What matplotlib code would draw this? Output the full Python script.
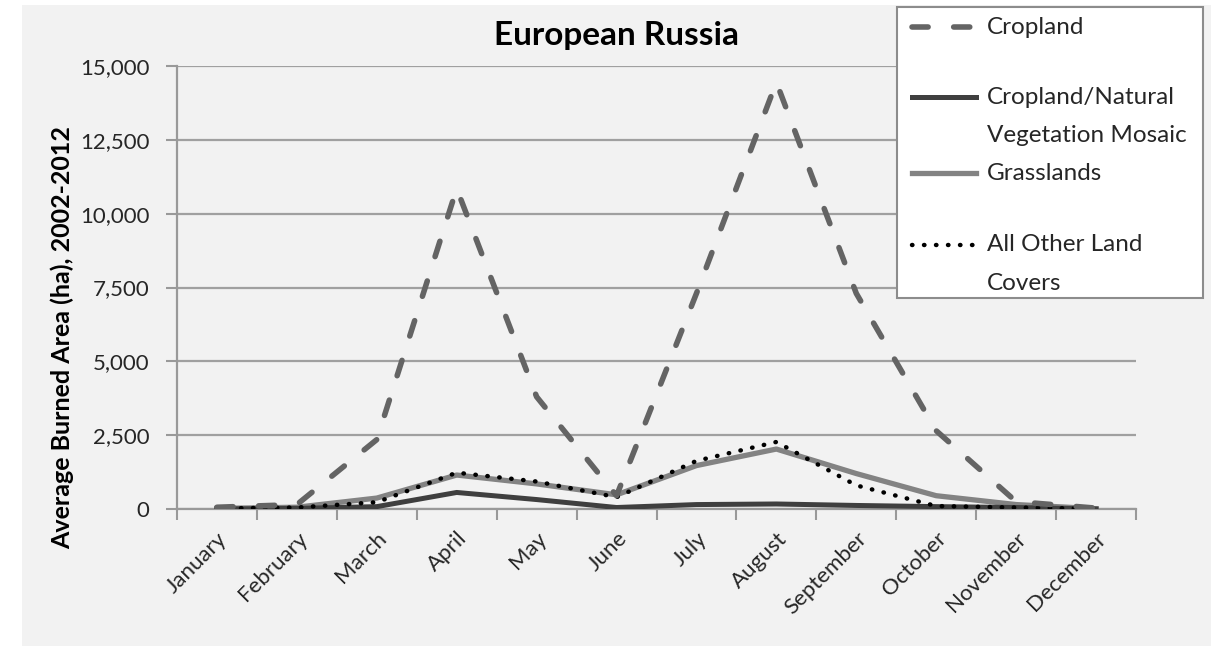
import matplotlib.pyplot as plt
from matplotlib.lines import Line2D
from matplotlib.patches import Rectangle
import numpy as np

# ---- data ---- #
months = ['January', 'February', 'March', 'April', 'May', 'June', 'July',
          'August', 'September', 'October', 'November', 'December']
cropland = [60, 150, 2350, 10850, 3800, 450, 7300, 14450, 7300, 2650, 250, 30]
mosaic = [0, 20, 80, 560, 320, 50, 150, 170, 120, 80, 50, 0]
grasslands = [20, 60, 370, 1150, 850, 480, 1470, 2030, 1200, 450, 150, 10]
other = [20, 50, 230, 1230, 930, 400, 1630, 2270, 800, 100, 50, 10]
yticks = [0, 2500, 5000, 7500, 10000, 12500, 15000]

W, H = 1211, 646
plt.rcParams['font.family'] = ['Lato', 'DejaVu Sans']
txt = '#262626'

fig = plt.figure(figsize=(W / 100, H / 100), dpi=100, facecolor='white')
fig.patches.append(Rectangle((22 / W, 0), 1 - 22 / W, (H - 5) / H, transform=fig.transFigure,
                             facecolor='#f2f2f2', edgecolor='none', zorder=-10))

ax = fig.add_axes([177 / W, (H - 509) / H, (1136 - 177) / W, (509 - 66) / H])
ax.set_facecolor('#f2f2f2')

x = np.arange(len(months))
styles = {
    'Cropland': dict(color='#646464', lw=4, ls=(0, (2.9, 4.6)), dash_capstyle='round'),
    'mosaic': dict(color='#3f3f3f', lw=3.6, ls='-'),
    'grass': dict(color='#838383', lw=3.8, ls='-'),
    'other': dict(color='black', lw=3.2, ls=(0, (0.1, 2.6)), dash_capstyle='round'),
}
ax.plot(x, grasslands, **styles['grass'], zorder=3)
ax.plot(x, mosaic, **styles['mosaic'], zorder=4)
ax.plot(x, other, **styles['other'], zorder=5)
ax.plot(x, cropland, **styles['Cropland'], zorder=6)

ax.set_xlim(-0.5, 11.5)
ax.set_ylim(0, 15000)
ax.set_yticks(yticks)
ax.set_yticklabels(['{:,}'.format(v) for v in yticks])
ax.yaxis.grid(True, color='#a0a0a0', lw=1.6)
ax.set_axisbelow(True)

ax.set_xticks(np.arange(-0.5, 12, 1))
ax.set_xticklabels([])
ax.set_xticks(x, minor=True)
ax.set_xticklabels(months, minor=True, rotation=45, ha='right', va='top',
                   rotation_mode='anchor', fontsize=16, color=txt)
ax.tick_params(axis='x', which='minor', length=0, pad=14)
ax.tick_params(axis='x', which='major', length=8, width=1.5, color='#999999')
ax.tick_params(axis='y', length=8, width=1.5, color='#999999', pad=12,
               labelsize=16, labelcolor=txt)

for side in ('top', 'right'):
    ax.spines[side].set_visible(False)
for side in ('left', 'bottom'):
    ax.spines[side].set_color('#999999')
    ax.spines[side].set_linewidth(1.6)

fig.text(617 / W, 1 - 35 / H, 'European Russia', ha='center', va='center',
         fontsize=24, fontweight='bold', color='black')
fig.text(62 / W, 1 - 338 / H, 'Average Burned Area (ha), 2002-2012', rotation=90,
         ha='center', va='center', fontsize=18, fontweight='bold', color='black')

# ---- legend box ---- #
def fx(px):
    return px / W

def fy(py):
    return 1 - py / H

fig.patches.append(Rectangle((fx(897), fy(298)), fx(1203) - fx(897), fy(7) - fy(298),
                             transform=fig.transFigure, facecolor='white',
                             edgecolor='#8c8c8c', lw=1.5, zorder=10))
entries = [
    ('Cropland', ['Cropland'], 27),
    ('mosaic', ['Cropland/Natural', 'Vegetation Mosaic'], 97),
    ('grass', ['Grasslands'], 173),
    ('other', ['All Other Land', 'Covers'], 245),
]
for key, lines, ypx in entries:
    fig.lines.append(Line2D([fx(912), fx(976)], [fy(ypx), fy(ypx)], transform=fig.transFigure,
                            zorder=11, **styles[key]))
    for i, line in enumerate(lines):
        fig.text(fx(987), fy(ypx + i * 39), line, ha='left', va='center',
                 fontsize=17.5, color=txt, zorder=12)

fig.savefig('out.png', dpi=100, facecolor=fig.get_facecolor())
